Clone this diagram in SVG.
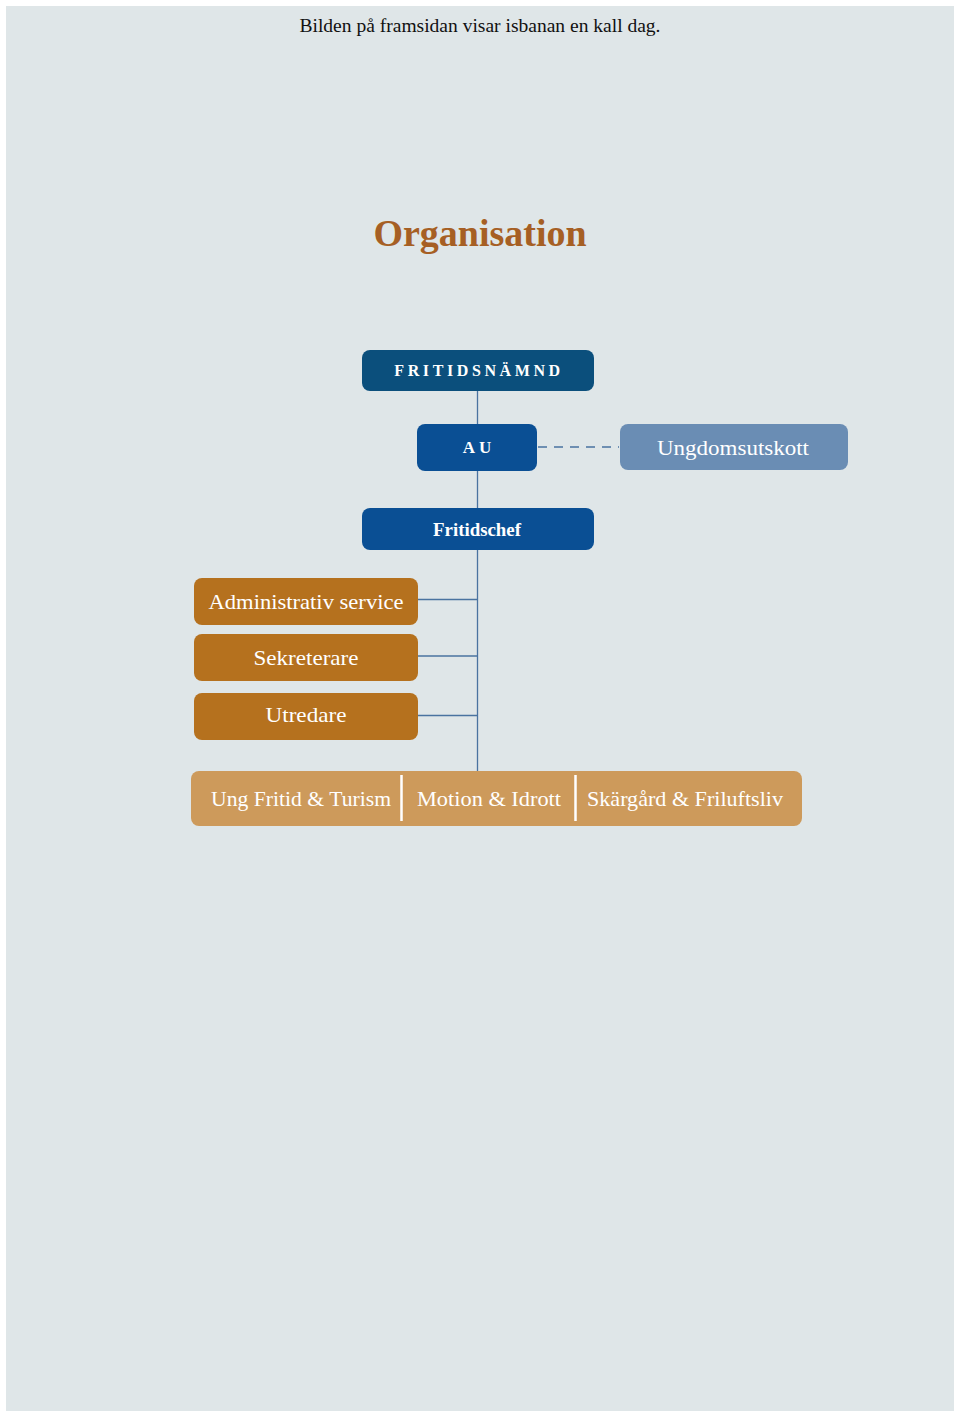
<svg xmlns="http://www.w3.org/2000/svg" width="960" height="1414" viewBox="0 0 960 1414">
<style>
.t{font-family:"Liberation Serif","DejaVu Serif",serif;fill:#fff;text-anchor:middle}
.conn{stroke:#4a73a0;stroke-width:1.3;fill:none}
.org{fill:#b5711e}
.dk{fill:#0a4f94}
</style>
<rect x="0" y="0" width="960" height="1414" fill="#ffffff"/>
<rect x="6" y="6" width="948" height="1405" fill="#dfe6e8"/>
<text x="480" y="32" font-family="Liberation Serif, serif" font-size="19" text-anchor="middle" fill="#111" textLength="361" lengthAdjust="spacingAndGlyphs">Bilden på framsidan visar isbanan en kall dag.</text>
<text x="480" y="246" font-family="Liberation Serif, serif" font-size="38" font-weight="bold" text-anchor="middle" fill="#a65f24">Organisation</text>
<g id="connectors">
<line class="conn" x1="477.5" y1="391" x2="477.5" y2="771"/>
<line class="conn" x1="538" y1="447" x2="619" y2="447" stroke-dasharray="9,7"/>
<line class="conn" x1="418" y1="599.5" x2="477.5" y2="599.5"/>
<line class="conn" x1="418" y1="656" x2="477.5" y2="656"/>
<line class="conn" x1="418" y1="715.5" x2="477.5" y2="715.5"/>
</g>
<g id="fritidsnamnd">
<rect x="362" y="350" width="232" height="41" rx="8" fill="#0b4f7c"/>
<text class="t" x="479" y="376" font-size="16" font-weight="bold" letter-spacing="3.6">FRITIDSNÄMND</text>
</g>
<g id="au">
<rect class="dk" x="417" y="424" width="120" height="47" rx="8"/>
<text class="t" x="479" y="453" font-size="17" font-weight="bold" letter-spacing="4">AU</text>
</g>
<g id="ungdomsutskott">
<rect x="620" y="424" width="228" height="46" rx="8" fill="#6a8db4"/>
<text class="t" x="733" y="455" font-size="22" textLength="152" lengthAdjust="spacingAndGlyphs">Ungdomsutskott</text>
</g>
<g id="fritidschef">
<rect class="dk" x="362" y="508" width="232" height="42" rx="8"/>
<text class="t" x="477" y="536" font-size="18.5" font-weight="bold" textLength="88" lengthAdjust="spacingAndGlyphs">Fritidschef</text>
</g>
<g id="administrativ">
<rect class="org" x="194" y="578" width="224" height="47" rx="8"/>
<text class="t" x="306" y="609" font-size="22" textLength="195" lengthAdjust="spacingAndGlyphs">Administrativ service</text>
</g>
<g id="sekreterare">
<rect class="org" x="194" y="634" width="224" height="47" rx="8"/>
<text class="t" x="306" y="665" font-size="22" textLength="105" lengthAdjust="spacingAndGlyphs">Sekreterare</text>
</g>
<g id="utredare">
<rect class="org" x="194" y="693" width="224" height="47" rx="8"/>
<text class="t" x="306" y="722" font-size="22" textLength="81" lengthAdjust="spacingAndGlyphs">Utredare</text>
</g>
<g id="enheter">
<rect x="191" y="771" width="611" height="55" rx="8" fill="#cd9a5b"/>
<line x1="401.5" y1="775" x2="401.5" y2="821" stroke="#fff" stroke-width="2.5"/>
<line x1="575.5" y1="775" x2="575.5" y2="821" stroke="#fff" stroke-width="2.5"/>
<text class="t" x="301" y="806" font-size="22" textLength="180" lengthAdjust="spacingAndGlyphs">Ung Fritid &amp; Turism</text>
<text class="t" x="489" y="806" font-size="22" textLength="144" lengthAdjust="spacingAndGlyphs">Motion &amp; Idrott</text>
<text class="t" x="685" y="806" font-size="22" textLength="196" lengthAdjust="spacingAndGlyphs">Skärgård &amp; Friluftsliv</text>
</g>
</svg>
